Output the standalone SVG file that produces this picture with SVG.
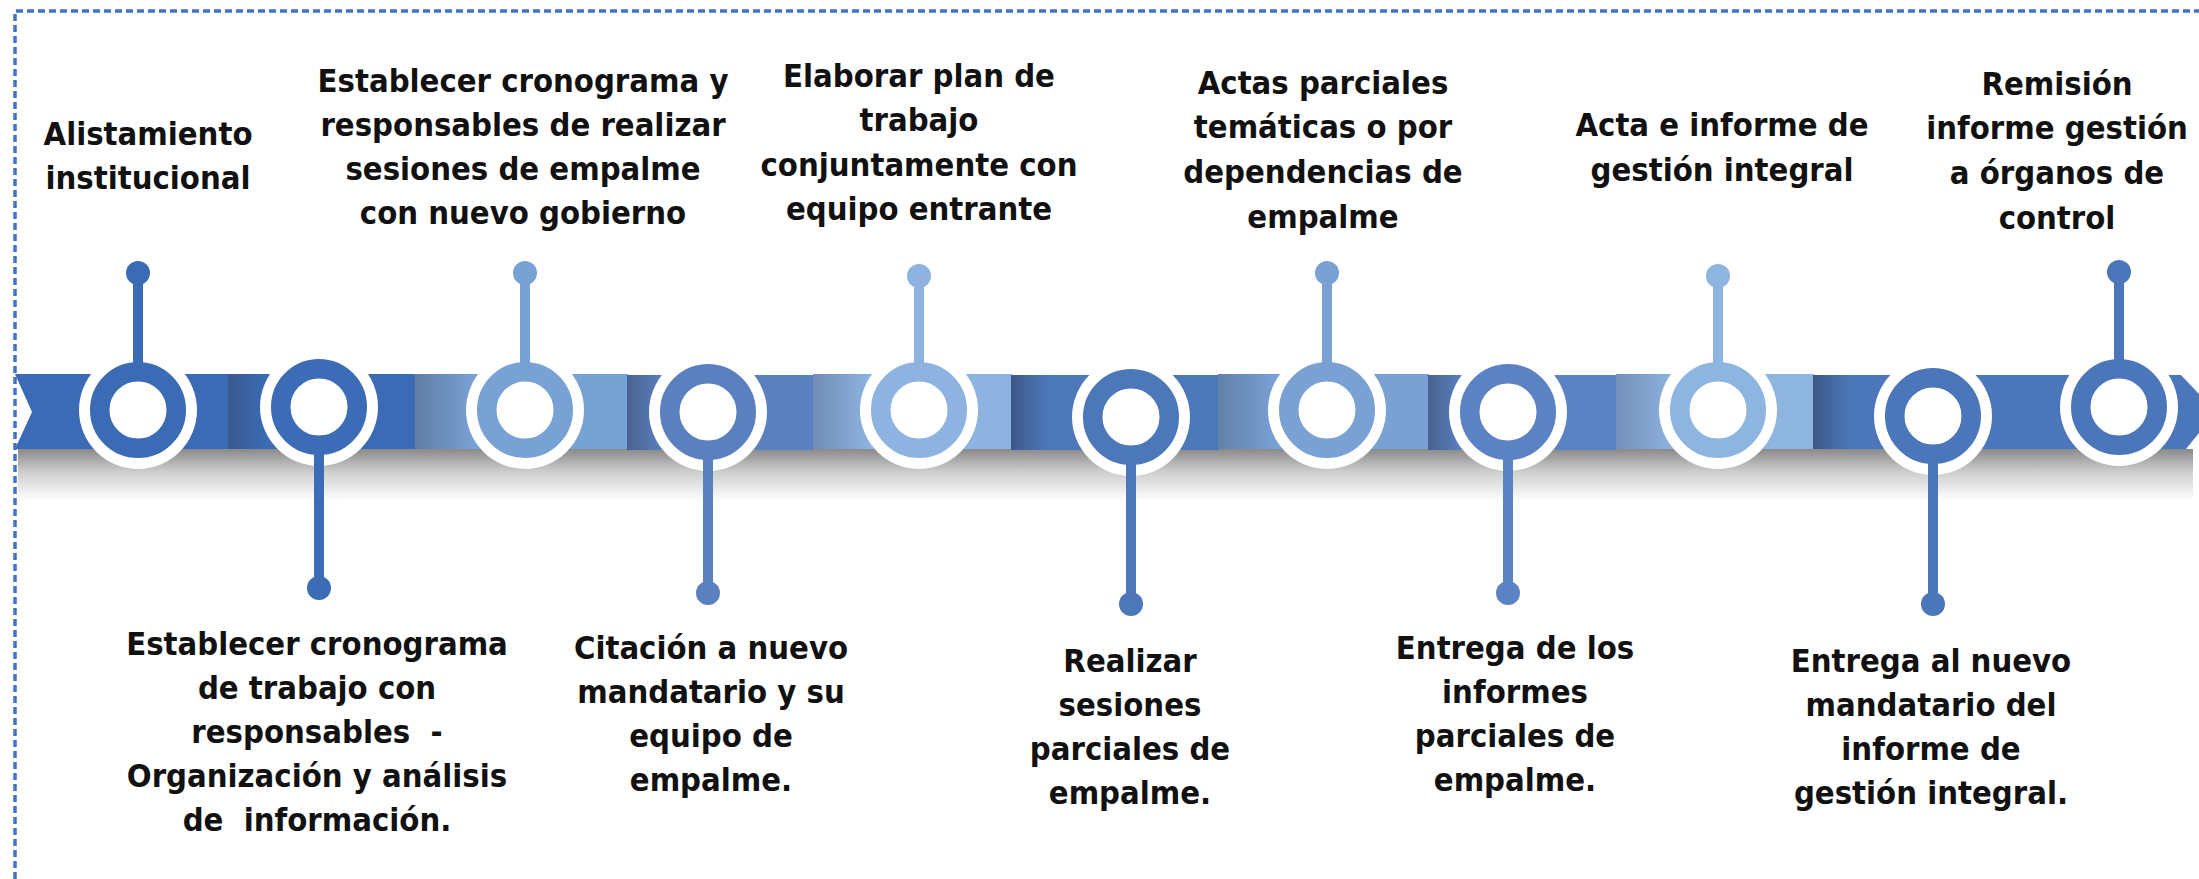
<svg xmlns="http://www.w3.org/2000/svg" width="2199" height="879" viewBox="0 0 2199 879">
<style>
.frame{fill:none;stroke:#4472C4;stroke-width:3.5;stroke-dasharray:7 4}
.t{font-family:"DejaVu Sans Condensed","DejaVu Sans",sans-serif;font-stretch:condensed;font-weight:bold;font-size:32.5px;fill:#111;text-anchor:middle}
.halo{fill:#fff}
.hole{fill:#fff}
.stem{stroke-width:10;fill:none}
</style>
<defs>
<linearGradient id="shadow" x1="0" y1="0" x2="0" y2="1">
<stop offset="0" stop-color="#8a8a8a"/>
<stop offset="0.45" stop-color="#cfcfcf"/>
<stop offset="1" stop-color="#ffffff"/>
</linearGradient>
<linearGradient id="gB" gradientUnits="userSpaceOnUse" x1="228" y1="0" x2="265" y2="0"><stop offset="0" stop-color="#3A5A8E"/><stop offset="1" stop-color="#3A6BB4"/></linearGradient>
<linearGradient id="gC" gradientUnits="userSpaceOnUse" x1="415" y1="0" x2="475" y2="0"><stop offset="0" stop-color="#5F7DA6"/><stop offset="1" stop-color="#79A2D4"/></linearGradient>
<linearGradient id="gD" gradientUnits="userSpaceOnUse" x1="627" y1="0" x2="662" y2="0"><stop offset="0" stop-color="#48628E"/><stop offset="1" stop-color="#5B80BF"/></linearGradient>
<linearGradient id="gE" gradientUnits="userSpaceOnUse" x1="813" y1="0" x2="870" y2="0"><stop offset="0" stop-color="#6F8DB5"/><stop offset="1" stop-color="#8EB3E0"/></linearGradient>
<linearGradient id="gF" gradientUnits="userSpaceOnUse" x1="1011" y1="0" x2="1046" y2="0"><stop offset="0" stop-color="#3D5888"/><stop offset="1" stop-color="#4C77B9"/></linearGradient>
<linearGradient id="gG" gradientUnits="userSpaceOnUse" x1="1218" y1="0" x2="1276" y2="0"><stop offset="0" stop-color="#6181A8"/><stop offset="1" stop-color="#79A1D4"/></linearGradient>
<linearGradient id="gH" gradientUnits="userSpaceOnUse" x1="1428" y1="0" x2="1463" y2="0"><stop offset="0" stop-color="#46618F"/><stop offset="1" stop-color="#5B82C2"/></linearGradient>
<linearGradient id="gI" gradientUnits="userSpaceOnUse" x1="1616" y1="0" x2="1674" y2="0"><stop offset="0" stop-color="#7390B8"/><stop offset="1" stop-color="#8EB4E0"/></linearGradient>
<linearGradient id="gJ" gradientUnits="userSpaceOnUse" x1="1813" y1="0" x2="1850" y2="0"><stop offset="0" stop-color="#3D5886"/><stop offset="1" stop-color="#4B77BA"/></linearGradient>
</defs>

<rect width="2199" height="879" fill="#fff"/>
<path class="frame" d="M15,879 V11 H2199"/>

<g id="timeline-band">
<rect x="18" y="449" width="2175" height="52" fill="url(#shadow)"/>
<polygon points="15,374 228,374 228,449 15,449 32,412" fill="#3A6BB4"/>
<rect x="228" y="374" width="188" height="75" fill="url(#gB)"/>
<rect x="415" y="374" width="213" height="75" fill="url(#gC)"/>
<rect x="627" y="375" width="187" height="75" fill="url(#gD)"/>
<rect x="813" y="374" width="199" height="75" fill="url(#gE)"/>
<rect x="1011" y="375" width="208" height="75" fill="url(#gF)"/>
<rect x="1218" y="374" width="211" height="75" fill="url(#gG)"/>
<rect x="1428" y="375" width="189" height="75" fill="url(#gH)"/>
<rect x="1616" y="374" width="198" height="75" fill="url(#gI)"/>
<polygon points="1813,375 2181,375 2216,412 2186,449 1813,449" fill="url(#gJ)"/>
</g>

<g id="node-1">
<circle class="halo" cx="138" cy="410" r="59"/>
<circle cx="138" cy="410" r="38.25" class="hole" stroke="#3A6BB4" stroke-width="19.5"/>
<text class="t" x="148" y="145">Alistamiento</text>
<text class="t" x="148" y="189">institucional</text>
</g>
<g id="node-2">
<circle class="halo" cx="319" cy="407" r="59"/>
<circle cx="319" cy="407" r="38.25" class="hole" stroke="#3B6CB5" stroke-width="19.5"/>
<text class="t" x="317" y="655">Establecer cronograma</text>
<text class="t" x="317" y="699">de trabajo con</text>
<text class="t" x="317" y="743" style="white-space:pre">responsables  -</text>
<text class="t" x="317" y="787">Organización y análisis</text>
<text class="t" x="317" y="831" style="white-space:pre">de  información.</text>
</g>
<g id="node-3">
<circle class="halo" cx="525" cy="410" r="59"/>
<circle cx="525" cy="410" r="38.25" class="hole" stroke="#79A2D4" stroke-width="19.5"/>
<text class="t" x="523" y="92">Establecer cronograma y</text>
<text class="t" x="523" y="136">responsables de realizar</text>
<text class="t" x="523" y="180">sesiones de empalme</text>
<text class="t" x="523" y="224">con nuevo gobierno</text>
</g>
<g id="node-4">
<circle class="halo" cx="708" cy="412" r="59"/>
<circle cx="708" cy="412" r="38.25" class="hole" stroke="#5B80BF" stroke-width="19.5"/>
<text class="t" x="711" y="659">Citación a nuevo</text>
<text class="t" x="711" y="703">mandatario y su</text>
<text class="t" x="711" y="747">equipo de</text>
<text class="t" x="711" y="791">empalme.</text>
</g>
<g id="node-5">
<circle class="halo" cx="919" cy="410" r="59"/>
<circle cx="919" cy="410" r="38.25" class="hole" stroke="#8EB3E0" stroke-width="19.5"/>
<text class="t" x="919" y="87">Elaborar plan de</text>
<text class="t" x="919" y="131">trabajo</text>
<text class="t" x="919" y="176">conjuntamente con</text>
<text class="t" x="919" y="220">equipo entrante</text>
</g>
<g id="node-6">
<circle class="halo" cx="1131" cy="417" r="59"/>
<circle cx="1131" cy="417" r="38.25" class="hole" stroke="#4C77B9" stroke-width="19.5"/>
<text class="t" x="1130" y="672">Realizar</text>
<text class="t" x="1130" y="716">sesiones</text>
<text class="t" x="1130" y="760">parciales de</text>
<text class="t" x="1130" y="804">empalme.</text>
</g>
<g id="node-7">
<circle class="halo" cx="1327" cy="410" r="59"/>
<circle cx="1327" cy="410" r="38.25" class="hole" stroke="#79A1D4" stroke-width="19.5"/>
<text class="t" x="1323" y="94">Actas parciales</text>
<text class="t" x="1323" y="138">temáticas o por</text>
<text class="t" x="1323" y="183">dependencias de</text>
<text class="t" x="1323" y="228">empalme</text>
</g>
<g id="node-8">
<circle class="halo" cx="1508" cy="412" r="59"/>
<circle cx="1508" cy="412" r="38.25" class="hole" stroke="#5B82C2" stroke-width="19.5"/>
<text class="t" x="1515" y="659">Entrega de los</text>
<text class="t" x="1515" y="703">informes</text>
<text class="t" x="1515" y="747">parciales de</text>
<text class="t" x="1515" y="791">empalme.</text>
</g>
<g id="node-9">
<circle class="halo" cx="1718" cy="410" r="59"/>
<circle cx="1718" cy="410" r="38.25" class="hole" stroke="#8EB4E0" stroke-width="19.5"/>
<text class="t" x="1722" y="136">Acta e informe de</text>
<text class="t" x="1722" y="181">gestión integral</text>
</g>
<g id="node-10">
<circle class="halo" cx="1933" cy="416" r="59"/>
<circle cx="1933" cy="416" r="38.25" class="hole" stroke="#4B77BA" stroke-width="19.5"/>
<text class="t" x="1931" y="672">Entrega al nuevo</text>
<text class="t" x="1931" y="716">mandatario del</text>
<text class="t" x="1931" y="760">informe de</text>
<text class="t" x="1931" y="804">gestión integral.</text>
</g>
<g id="node-11">
<circle class="halo" cx="2119" cy="407" r="59"/>
<circle cx="2119" cy="407" r="38.25" class="hole" stroke="#4B77BA" stroke-width="19.5"/>
<text class="t" x="2057" y="95">Remisión</text>
<text class="t" x="2057" y="139">informe gestión</text>
<text class="t" x="2057" y="184">a órganos de</text>
<text class="t" x="2057" y="229">control</text>
</g>

<g id="connectors">
<line class="stem" x1="138" y1="273" x2="138" y2="366" stroke="#3A6BB4"/><circle cx="138" cy="273" r="12" fill="#3A6BB4"/>
<line class="stem" x1="319" y1="451" x2="319" y2="588" stroke="#3B6CB5"/><circle cx="319" cy="588" r="12" fill="#3B6CB5"/>
<line class="stem" x1="525" y1="273" x2="525" y2="366" stroke="#79A2D4"/><circle cx="525" cy="273" r="12" fill="#79A2D4"/>
<line class="stem" x1="708" y1="456" x2="708" y2="593" stroke="#5B80BF"/><circle cx="708" cy="593" r="12" fill="#5B80BF"/>
<line class="stem" x1="919" y1="276" x2="919" y2="366" stroke="#8EB3E0"/><circle cx="919" cy="276" r="12" fill="#8EB3E0"/>
<line class="stem" x1="1131" y1="461" x2="1131" y2="604" stroke="#4C77B9"/><circle cx="1131" cy="604" r="12" fill="#4C77B9"/>
<line class="stem" x1="1327" y1="273" x2="1327" y2="366" stroke="#79A1D4"/><circle cx="1327" cy="273" r="12" fill="#79A1D4"/>
<line class="stem" x1="1508" y1="456" x2="1508" y2="593" stroke="#5B82C2"/><circle cx="1508" cy="593" r="12" fill="#5B82C2"/>
<line class="stem" x1="1718" y1="276" x2="1718" y2="366" stroke="#8EB4E0"/><circle cx="1718" cy="276" r="12" fill="#8EB4E0"/>
<line class="stem" x1="1933" y1="460" x2="1933" y2="604" stroke="#4B77BA"/><circle cx="1933" cy="604" r="12" fill="#4B77BA"/>
<line class="stem" x1="2119" y1="272" x2="2119" y2="363" stroke="#4B77BA"/><circle cx="2119" cy="272" r="12" fill="#4B77BA"/>
</g>
</svg>
